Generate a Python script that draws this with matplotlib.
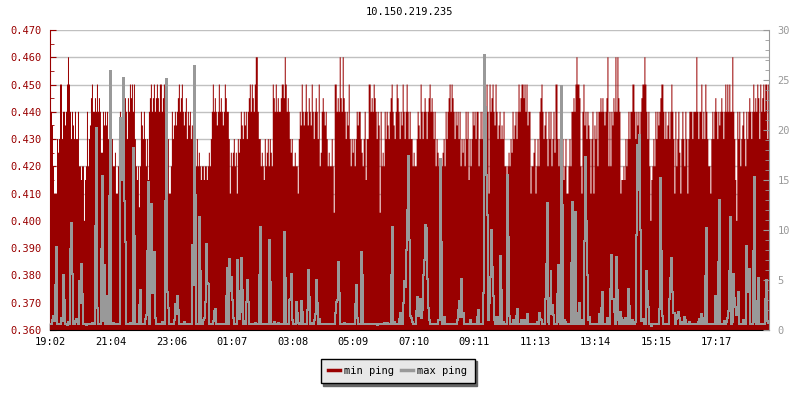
import numpy as np
import matplotlib
matplotlib.use("Agg")
import matplotlib.pyplot as plt
from matplotlib.lines import Line2D
from matplotlib.ticker import MultipleLocator, FormatStrFormatter

# one sample every 2 minutes, starting 19:02
step_min = 2

# min ping in microseconds (left axis, shown in ms)
min_ping_us = [
    420, 440, 435, 420, 410, 410, 410, 430, 425, 430, 450, 450, 430, 440, 440, 435, 440, 450, 460, 450,
    440, 430, 440, 435, 430, 440, 430, 430, 440, 420, 420, 415, 420, 420, 400, 415, 420, 440, 420, 430,
    435, 445, 450, 440, 440, 445, 440, 450, 440, 445, 440, 425, 425, 440, 435, 440, 435, 440, 430, 440,
    435, 420, 430, 420, 420, 425, 410, 410, 420, 430, 440, 435, 440, 450, 440, 445, 440, 430, 445, 440,
    450, 445, 450, 440, 450, 430, 420, 415, 420, 405, 420, 440, 435, 430, 440, 430, 420, 430, 415, 440,
    445, 450, 440, 445, 450, 440, 445, 450, 445, 440, 450, 450, 440, 445, 450, 440, 430, 420, 430, 410,
    410, 420, 440, 430, 435, 440, 435, 440, 445, 450, 440, 445, 450, 440, 435, 440, 445, 430, 440, 435,
    440, 430, 435, 430, 435, 430, 420, 430, 420, 425, 420, 415, 420, 420, 415, 420, 420, 415, 420, 425,
    420, 430, 440, 450, 440, 445, 440, 435, 440, 450, 440, 445, 440, 435, 440, 450, 445, 440, 440, 430,
    410, 425, 420, 425, 430, 420, 425, 410, 430, 425, 430, 440, 435, 430, 440, 435, 440, 430, 440, 445,
    450, 440, 450, 445, 440, 450, 460, 460, 440, 430, 430, 420, 425, 420, 415, 430, 420, 425, 430, 420,
    430, 425, 420, 450, 445, 440, 450, 440, 445, 440, 440, 445, 450, 450, 445, 460, 450, 440, 445, 440,
    430, 425, 430, 420, 420, 425, 420, 420, 410, 430, 440, 435, 450, 440, 435, 440, 450, 440, 435, 445,
    440, 435, 450, 440, 430, 440, 445, 440, 430, 450, 420, 425, 440, 445, 440, 435, 440, 430, 420, 425,
    420, 420, 430, 420, 403, 450, 450, 440, 445, 440, 460, 445, 440, 460, 445, 440, 430, 440, 435, 450,
    430, 420, 430, 425, 430, 420, 430, 440, 435, 440, 440, 430, 425, 420, 430, 440, 415, 430, 430, 450,
    450, 440, 445, 440, 450, 445, 440, 430, 440, 435, 403, 440, 420, 425, 420, 440, 430, 440, 435, 430,
    440, 445, 450, 440, 435, 430, 440, 450, 445, 440, 430, 440, 435, 450, 440, 430, 440, 450, 440, 430,
    440, 430, 430, 420, 425, 420, 420, 430, 440, 435, 430, 450, 440, 430, 440, 445, 440, 430, 440, 445,
    450, 440, 445, 440, 430, 440, 420, 430, 425, 420, 410, 410, 420, 425, 430, 420, 440, 430, 440, 445,
    450, 440, 450, 445, 440, 430, 440, 435, 440, 430, 440, 420, 430, 425, 430, 420, 440, 430, 440, 415,
    430, 420, 430, 440, 435, 440, 430, 440, 440, 420, 430, 440, 430, 440, 440, 445, 430, 450, 440, 410,
    450, 440, 445, 450, 440, 435, 450, 440, 430, 435, 440, 430, 435, 430, 440, 420, 420, 415, 420, 425,
    420, 430, 425, 440, 430, 435, 440, 430, 440, 450, 440, 445, 450, 450, 445, 450, 440, 450, 435, 440,
    440, 410, 420, 420, 425, 430, 410, 420, 430, 420, 440, 445, 450, 440, 430, 435, 440, 430, 420, 440,
    430, 440, 420, 430, 440, 425, 450, 450, 430, 420, 430, 410, 420, 430, 415, 420, 430, 410, 410, 420,
    430, 420, 440, 440, 445, 440, 450, 460, 450, 450, 445, 420, 410, 440, 450, 435, 440, 430, 440, 435,
    430, 410, 430, 440, 410, 435, 430, 440, 420, 440, 440, 445, 440, 445, 440, 435, 440, 445, 460, 420,
    440, 420, 440, 435, 445, 440, 460, 440, 460, 445, 440, 410, 415, 415, 420, 415, 430, 420, 430, 440,
    430, 440, 440, 450, 450, 440, 430, 440, 435, 440, 430, 440, 445, 450, 450, 460, 450, 440, 430, 440,
    420, 400, 415, 420, 430, 420, 440, 430, 440, 435, 440, 445, 450, 450, 440, 430, 440, 430, 435, 440,
    430, 440, 450, 440, 430, 410, 440, 420, 430, 440, 425, 410, 430, 440, 430, 420, 440, 430, 410, 430,
    440, 440, 440, 430, 440, 440, 440, 460, 440, 430, 440, 440, 450, 430, 440, 430, 450, 440, 430, 420,
    420, 410, 430, 440, 430, 440, 445, 440, 430, 440, 435, 440, 445, 440, 430, 440, 450, 440, 450, 440,
    450, 440, 440, 460, 440, 430, 415, 400, 440, 430, 440, 420, 430, 435, 440, 430, 420, 440, 430, 440,
    445, 440, 430, 440, 450, 440, 445, 440, 450, 445, 430, 450, 440, 445, 450, 440, 450, 450, 430, 450,
]

# max ping in ms (right axis)
max_ping = [
    0.6, 0.6, 1.0, 1.4, 0.9, 4.5, 8.3, 0.6, 0.6, 0.6, 0.6, 1.2, 0.9, 5.5, 3.0, 0.6, 0.6, 0.5, 0.8, 0.6,
    8.1, 10.7, 5.6, 0.6, 0.6, 0.9, 1.1, 0.8, 0.6, 4.9, 2.7, 6.6, 3.6, 0.6, 0.6, 0.6, 0.5, 0.6, 0.6, 0.6,
    0.6, 0.6, 0.7, 0.6, 0.6, 10.4, 20.2, 2.2, 0.6, 0.6, 0.6, 8.1, 15.4, 0.9, 6.5, 0.6, 3.4, 2.0, 0.6, 13.4,
    25.9, 0.6, 0.6, 0.7, 0.6, 0.6, 0.6, 0.6, 0.6, 0.6, 21.2, 17.5, 15.0, 25.2, 12.9, 8.8, 0.6, 0.6, 0.6, 0.6,
    0.7, 0.6, 0.6, 18.2, 9.4, 0.6, 0.6, 0.6, 0.6, 2.5, 4.0, 0.6, 0.6, 0.6, 0.6, 1.1, 1.5, 7.9, 14.8, 0.6,
    6.7, 12.6, 3.7, 4.3, 7.8, 1.2, 0.6, 0.6, 0.6, 0.6, 0.6, 0.6, 0.8, 0.6, 0.6, 12.9, 25.1, 3.8, 2.2, 0.6,
    0.6, 0.6, 0.6, 0.6, 1.0, 2.6, 1.6, 3.4, 2.0, 0.6, 0.6, 0.6, 0.6, 0.6, 0.8, 0.6, 0.6, 0.6, 0.6, 0.6,
    0.6, 0.6, 8.5, 4.5, 26.4, 13.5, 0.6, 0.6, 0.6, 11.3, 5.9, 0.6, 0.6, 1.0, 1.2, 2.8, 8.6, 4.7, 4.6, 0.6,
    0.6, 0.6, 0.6, 0.9, 1.9, 2.1, 0.6, 0.6, 0.6, 0.6, 0.6, 0.6, 0.6, 0.6, 0.6, 0.6, 3.4, 6.2, 0.6, 7.1,
    3.9, 5.3, 3.0, 1.2, 0.6, 0.6, 0.6, 7.0, 3.9, 1.1, 1.8, 7.2, 4.0, 0.6, 0.9, 0.6, 2.8, 5.0, 2.8, 0.6,
    0.6, 0.6, 0.6, 0.6, 0.6, 0.7, 0.6, 0.6, 0.6, 5.5, 10.3, 0.6, 0.6, 0.6, 0.6, 0.6, 0.6, 0.6, 0.6, 9.0,
    4.8, 0.6, 0.6, 0.6, 0.8, 0.6, 0.6, 0.6, 0.7, 0.6, 0.6, 0.6, 0.6, 0.6, 9.8, 5.2, 0.6, 0.6, 0.6, 3.0,
    3.1, 5.6, 1.0, 0.6, 0.6, 0.6, 2.8, 1.7, 0.7, 0.6, 0.6, 2.9, 1.8, 0.6, 0.6, 0.6, 0.6, 2.0, 6.0, 3.3,
    0.6, 0.6, 0.7, 0.6, 1.0, 1.6, 5.0, 2.7, 0.6, 1.1, 0.6, 0.6, 0.6, 0.6, 0.6, 0.6, 0.6, 0.6, 0.6, 0.6,
    0.6, 0.6, 0.6, 0.6, 0.6, 1.7, 2.8, 3.0, 6.8, 3.7, 0.6, 0.6, 0.6, 0.6, 0.7, 0.6, 0.6, 0.6, 0.6, 0.6,
    0.6, 0.6, 0.6, 0.6, 0.6, 2.6, 4.5, 1.2, 0.6, 0.6, 0.6, 7.8, 5.5, 0.6, 0.6, 0.6, 0.6, 0.6, 0.6, 0.6,
    0.6, 0.6, 0.6, 0.6, 0.6, 0.6, 0.6, 0.5, 0.6, 0.6, 0.6, 0.6, 0.6, 0.6, 0.7, 0.6, 0.6, 0.7, 0.6, 0.6,
    0.6, 5.5, 10.3, 0.6, 0.8, 0.6, 0.6, 0.6, 0.6, 1.1, 1.7, 0.6, 0.6, 2.7, 4.9, 4.3, 8.0, 12.0, 17.4, 9.0,
    1.4, 1.2, 0.8, 0.6, 0.6, 0.6, 1.9, 3.3, 1.4, 1.9, 3.1, 1.2, 2.0, 5.5, 7.0, 10.5, 10.2, 5.1, 2.2, 1.0,
    0.6, 0.6, 0.6, 0.6, 0.6, 0.6, 0.6, 0.6, 1.0, 1.0, 17.1, 8.8, 0.6, 1.0, 1.3, 0.6, 0.6, 0.6, 0.6, 0.6,
    0.6, 0.6, 0.6, 0.6, 0.6, 0.6, 0.6, 1.0, 2.0, 2.9, 1.3, 5.1, 1.3, 1.7, 0.6, 0.6, 0.6, 0.6, 0.6, 0.6,
    1.0, 0.6, 0.6, 0.6, 0.6, 0.6, 0.6, 1.3, 2.0, 0.6, 0.6, 0.6, 0.6, 3.7, 27.5, 22.3, 15.5, 11.5, 1.0, 2.7,
    5.3, 10.0, 6.3, 3.4, 1.0, 0.6, 1.3, 1.3, 0.6, 0.6, 7.4, 4.0, 0.6, 0.8, 0.6, 0.6, 0.6, 15.5, 9.3, 1.4,
    0.6, 0.6, 0.6, 1.0, 0.6, 0.6, 1.4, 2.1, 0.6, 0.6, 0.6, 1.0, 0.6, 0.6, 1.0, 0.6, 0.6, 1.6, 0.6, 0.6,
    0.6, 0.6, 0.6, 0.6, 0.6, 0.6, 0.6, 0.8, 0.6, 1.7, 1.1, 1.0, 0.6, 0.6, 0.6, 3.1, 6.6, 12.7, 0.8, 0.6,
    3.2, 5.9, 1.6, 2.5, 1.5, 0.6, 0.6, 0.6, 3.6, 6.5, 0.8, 0.6, 24.4, 12.5, 0.6, 1.0, 0.8, 0.6, 0.6, 0.6,
    0.6, 0.6, 6.7, 12.8, 0.6, 6.2, 11.8, 0.6, 0.6, 1.7, 2.7, 0.6, 1.0, 0.8, 0.6, 8.9, 17.3, 10.9, 5.5, 1.0,
    1.3, 0.6, 0.6, 0.6, 0.6, 0.6, 0.6, 0.6, 0.6, 0.6, 1.6, 0.6, 2.2, 3.8, 0.6, 0.6, 0.6, 0.6, 1.2, 1.0,
    0.6, 4.1, 7.5, 3.1, 3.1, 1.8, 0.6, 7.3, 4.0, 1.0, 0.6, 1.8, 1.2, 0.6, 1.0, 0.6, 1.2, 0.6, 0.6, 4.1,
    2.4, 0.6, 0.6, 1.0, 0.6, 0.6, 0.8, 9.5, 18.5, 14.0, 19.5, 10.0, 0.9, 1.1, 1.1, 0.6, 0.6, 5.9, 3.9, 2.3,
    0.6, 0.6, 0.4, 0.6, 0.6, 0.6, 0.6, 0.6, 0.6, 0.6, 2.1, 15.2, 7.9, 1.4, 0.6, 0.6, 0.6, 0.6, 0.6, 0.6,
    3.1, 5.2, 7.2, 3.8, 1.7, 1.7, 0.6, 1.1, 1.5, 1.8, 1.2, 0.6, 0.8, 0.6, 0.6, 1.3, 1.0, 0.6, 0.6, 0.6,
    0.8, 0.6, 0.6, 0.6, 0.6, 0.6, 0.6, 0.6, 0.6, 0.8, 1.1, 0.6, 1.6, 1.2, 0.6, 0.6, 5.4, 10.2, 0.6, 0.6,
    0.6, 0.6, 0.6, 0.6, 0.6, 0.6, 3.4, 2.0, 0.6, 6.8, 13.0, 0.6, 0.6, 0.6, 0.6, 0.9, 0.6, 0.8, 1.2, 1.9,
    5.9, 11.3, 0.6, 0.8, 5.6, 3.2, 2.3, 1.5, 2.2, 3.8, 0.6, 0.6, 0.6, 0.6, 1.0, 1.0, 0.6, 8.4, 4.5, 3.8,
    6.1, 0.6, 0.6, 0.6, 7.9, 15.3, 0.8, 0.6, 2.9, 5.2, 0.6, 0.6, 0.6, 0.6, 0.6, 0.6, 3.1, 5.0, 0.9, 0.7,
]

tick_minutes = [0, 122, 244, 365, 486, 607, 728, 849, 971, 1092, 1213, 1335]
tick_labels = ['19:02', '21:04', '23:06', '01:07', '03:08', '05:09',
               '07:10', '09:11', '11:13', '13:14', '15:15', '17:17']

RED = '#990000'
GREY = '#999999'
FONT = 'DejaVu Sans Mono'
FS = 7.5

plt.rcParams['font.family'] = FONT

min_ping = np.array(min_ping_us) / 1000.0
edges = np.arange(len(min_ping) + 1) * step_min

fig = plt.figure(figsize=(8, 4), dpi=100)
ax = fig.add_axes([0.0625, 0.175, 0.8991, 0.75])
ax2 = ax.twinx()

ax.stairs(min_ping, edges, baseline=0.36, fill=True, color=RED, zorder=2)
# 0.72 pt is one pixel at 100 dpi
ax2.stairs(max_ping, edges, baseline=None, color=GREY, linewidth=0.72,
           antialiased=False)

ax.set_xlim(0, 1440)
ax.set_ylim(0.36, 0.47)
ax2.set_ylim(0, 30)

ax.yaxis.set_major_locator(MultipleLocator(0.01))
ax.yaxis.set_minor_locator(MultipleLocator(0.005))
ax.yaxis.set_major_formatter(FormatStrFormatter('%.3f'))
ax2.yaxis.set_major_locator(MultipleLocator(5))
ax2.yaxis.set_minor_locator(MultipleLocator(1))

ax.set_xticks(tick_minutes)
ax.set_xticklabels(tick_labels)

ax.grid(axis='y', which='major', color='#c0c0c0', linewidth=1.0, zorder=0)
ax.set_axisbelow(True)

ax.tick_params(axis='y', which='both', direction='in', colors=RED, labelsize=FS, pad=6)
ax.tick_params(axis='y', which='major', length=4)
ax.tick_params(axis='y', which='minor', length=3)
ax.tick_params(axis='x', direction='in', length=5, width=1, colors='black', labelsize=FS, pad=5)
ax2.tick_params(axis='y', which='both', direction='in', colors=GREY, labelsize=FS, pad=6)
ax2.tick_params(axis='y', which='major', length=4)
ax2.tick_params(axis='y', which='minor', length=3)

for a in (ax, ax2):
    a.spines['top'].set_visible(False)
ax.spines['right'].set_visible(False)
ax.spines['left'].set_color(RED)
ax.spines['bottom'].set_color('black')
ax2.spines['left'].set_visible(False)
ax2.spines['bottom'].set_visible(False)
ax2.spines['right'].set_color(GREY)

ax.set_title('10.150.219.235', fontsize=FS, pad=11)

handles = [Line2D([0], [0], color=RED, linewidth=2.5),
           Line2D([0], [0], color=GREY, linewidth=2.5)]
leg = fig.legend(handles, ['min ping', 'max ping'], loc='center',
                 bbox_to_anchor=(0.497, 0.073), ncol=2, fontsize=FS,
                 frameon=True, fancybox=False, shadow={'color': '#666666', 'alpha': 1},
                 handlelength=1.2, handletextpad=0.4, columnspacing=0.6,
                 borderpad=0.7, borderaxespad=0)
leg.get_frame().set_facecolor('#e8e8e8')
leg.get_frame().set_edgecolor('black')
leg.get_frame().set_alpha(1)

fig.savefig('out.png', dpi=100)
